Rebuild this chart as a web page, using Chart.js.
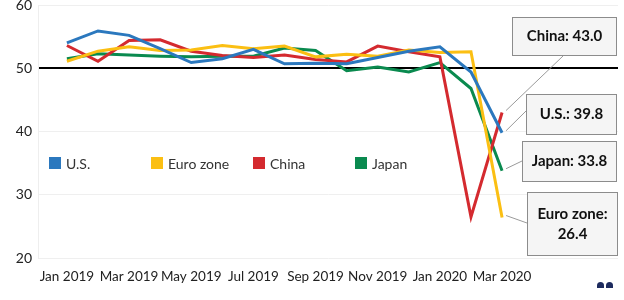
<!DOCTYPE html>
<html><head><meta charset="utf-8">
<script src="https://cdn.jsdelivr.net/npm/chart.js@4/dist/chart.umd.min.js"></script>
<style>
html,body{margin:0;padding:0;background:#fff;}
#wrap{position:relative;width:624px;height:300px;overflow:hidden;}
canvas{position:absolute;left:0;top:0;}
#legend{position:absolute;left:49px;top:155px;display:flex;font:14px Lato, "Open Sans", sans-serif;color:#333;}
#legend div{width:102px;display:flex;align-items:center;height:16px;}
#legend i{display:inline-block;width:12px;height:12px;margin-right:5px;}
#logo{position:absolute;left:597px;top:282px;display:flex;gap:2px;}
#logo span{display:block;width:7px;height:6px;border-radius:4px 4px 0 0;background:#1d2b5e;}
</style></head><body>
<div id="wrap"><canvas id="c" width="624" height="300"></canvas>
<div id="legend"></div><div id="logo"><span></span><span></span></div></div>
<script>
// ---- data ----
const months = ["Jan 2019","Feb 2019","Mar 2019","Apr 2019","May 2019","Jun 2019","Jul 2019","Aug 2019","Sep 2019","Oct 2019","Nov 2019","Dec 2019","Jan 2020","Feb 2020","Mar 2020"];
const tickMonths = ["Jan 2019","Mar 2019","May 2019","Jul 2019","Sep 2019","Nov 2019","Jan 2020","Mar 2020"];
const seriesNames = ["U.S.","Euro zone","China","Japan"];
const usValues    = [54.0,55.9,55.2,53.1,50.9,51.5,53.0,50.7,50.8,50.7,51.7,52.7,53.4,49.4,39.8];
const euroValues  = [51.1,52.7,53.4,52.8,52.9,53.6,53.1,53.5,51.8,52.2,51.9,52.9,52.5,52.6,26.4];
const chinaValues = [53.6,51.1,54.4,54.5,52.7,52.0,51.7,52.1,51.4,51.0,53.5,52.6,51.8,26.5,43.0];
const japanValues = [51.5,52.3,52.1,51.9,51.8,51.9,51.9,53.2,52.8,49.6,50.2,49.4,50.9,46.8,33.8];
const yTicks = [20,30,40,50,60];
const referenceLevel = 50;

// ---- styles ----
const colors = ["#2b78be","#fbbf13","#d42a2f","#0a8a4f"];
const allValues = [usValues, euroValues, chinaValues, japanValues];
const FONT = 'Lato, "Open Sans", sans-serif';

// legend (HTML)
const lg = document.getElementById('legend');
seriesNames.forEach((n,i)=>{
  const d=document.createElement('div');
  d.innerHTML='<i style="background:'+colors[i]+'"></i><span>'+n+'</span>';
  lg.appendChild(d);
});

const datasets = seriesNames.map((n,i)=>({
  label:n,
  data: allValues[i].map((v,k)=>({x:k,y:v})),
  borderColor: colors[i], backgroundColor: colors[i],
  borderWidth: 3, pointRadius: 0, tension: 0, fill:false, clip:false
}));

// callout layout (box x,y,w,h and anchor point on box)
const callouts = [
  {s:2, box:[512,17,105,39], anchor:[563,56]},
  {s:0, box:[526,94,91,41],  anchor:[526,111]},
  {s:3, box:[522,141,95,41], anchor:[522,161]},
  {s:1, box:[527,192,91,64], anchor:[527,223], split:true},
];

const calloutPlugin = {
  id:'callouts',
  afterDatasetsDraw(chart){
    const ctx = chart.ctx;
    ctx.save();
    callouts.forEach(c=>{
      const meta = chart.getDatasetMeta(c.s);
      const pt = meta.data[meta.data.length-1];
      const vals = allValues[c.s];
      const v = vals[vals.length-1].toFixed(1);
      const lines = c.split ? [seriesNames[c.s]+':', v] : [seriesNames[c.s]+': '+v];
      ctx.strokeStyle='#9a9a9a'; ctx.lineWidth=1;
      ctx.beginPath(); ctx.moveTo(pt.x+4, pt.y-2); ctx.lineTo(c.anchor[0], c.anchor[1]); ctx.stroke();
      const [bx,by,bw,bh]=c.box;
      ctx.fillStyle='#f5f5f5';
      ctx.fillRect(bx,by,bw,bh);
      ctx.strokeStyle='#8c8c8c';
      ctx.strokeRect(bx+0.5,by+0.5,bw-1,bh-1);
      ctx.fillStyle='#111';
      ctx.font='bold 15px '+FONT;
      ctx.textAlign='center'; ctx.textBaseline='middle';
      const lh=20, cy=by+bh/2;
      lines.forEach((t,k)=>{
        ctx.fillText(t, bx+bw/2, cy + (k-(lines.length-1)/2)*lh);
      });
    });
    ctx.restore();
  }
};

new Chart(document.getElementById('c'),{
  type:'line',
  data:{datasets},
  options:{
    responsive:false, animation:false, devicePixelRatio:1,
    layout:{padding:{top:5,right:6,left:0,bottom:0}},
    plugins:{legend:{display:false}, tooltip:{enabled:false}},
    scales:{
      x:{
        type:'linear', min:-0.93, max:17.73,
        grid:{display:false}, border:{display:false},
        afterBuildTicks(axis){ axis.ticks = tickMonths.map(m=>({value:months.indexOf(m)})); },
        afterFit(s){ s.height = 42; s.paddingLeft = 0; s.paddingRight = 0; },
        ticks:{ autoSkip:false, maxRotation:0, padding:3, color:'#222', font:{family:FONT,size:13.5},
          callback:(v)=>months[v] }
      },
      y:{
        min:yTicks[0], max:yTicks[yTicks.length-1],
        afterBuildTicks(axis){ axis.ticks = yTicks.map(v=>({value:v})); },
        afterFit(s){ s.width = 38; s.paddingTop = 0; s.paddingBottom = 0; },
        border:{display:true,color:'#eeeeee'},
        grid:{ drawTicks:false,
          color:(c)=> c.tick && c.tick.value===referenceLevel ? '#000' : '#efefef',
          lineWidth:(c)=> c.tick && c.tick.value===referenceLevel ? 2 : 1 },
        ticks:{ padding:6, color:'#222', font:{family:FONT,size:14} }
      }
    }
  },
  plugins:[calloutPlugin]
});
</script>
</body></html>
